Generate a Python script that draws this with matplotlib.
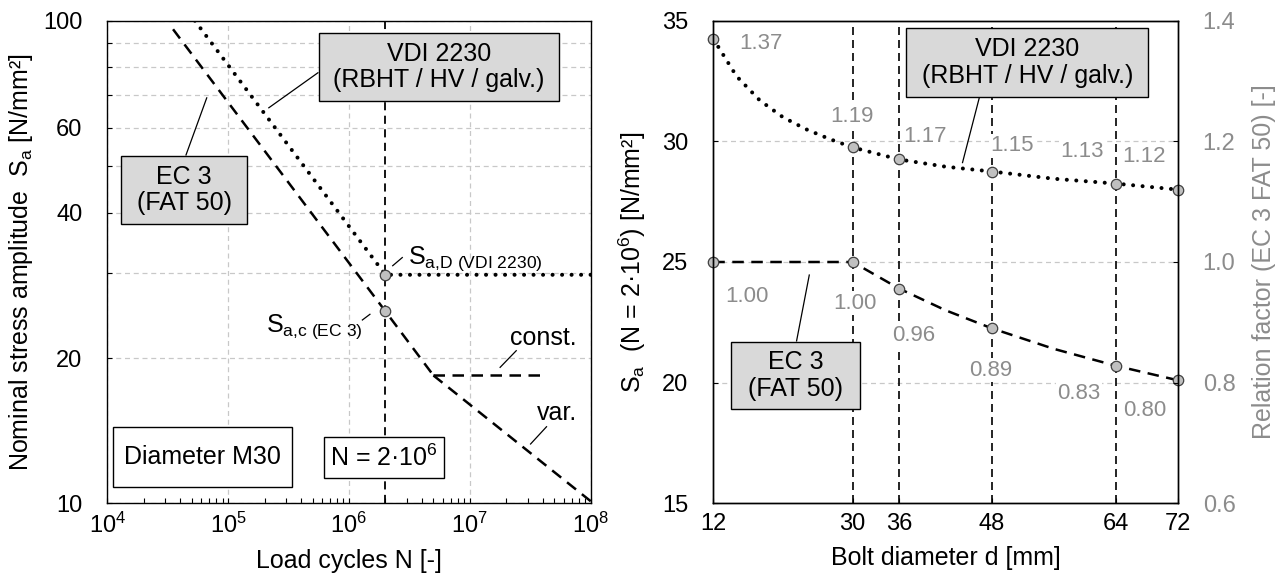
import matplotlib
matplotlib.use("Agg")
import matplotlib.pyplot as plt
from matplotlib.patches import Rectangle
from matplotlib.ticker import NullFormatter, FixedLocator, LogLocator

plt.rcParams['font.family'] = ['Liberation Sans', 'DejaVu Sans']
plt.rcParams['mathtext.fontset'] = 'custom'
plt.rcParams['mathtext.rm'] = 'Liberation Sans'
plt.rcParams['mathtext.it'] = 'Liberation Sans:italic'
plt.rcParams['mathtext.bf'] = 'Liberation Sans:bold'

# ---------------- data: left chart (S-N curves, M30) ----------------
ec3_N = [3.5e4, 2e6, 5e6]
ec3_S = [96.0, 25.0, 18.4]
ec3_const_N = [5e6, 3.9e7]
ec3_const_S = [18.4, 18.4]
ec3_var_N = [5e6, 1e8]
ec3_var_S = [18.4, 10.1]
vdi_N = [5.3e4, 2e6, 1e8]
vdi_S = [100.0, 29.75, 29.75]
ref_N = 2e6
point_N = [2e6, 2e6]
point_S = [29.75, 25.0]
left_yticks = [10, 20, 40, 60, 100]
left_yminor = [30, 50, 70, 80, 90]
left_xticks = [1e4, 1e5, 1e6, 1e7, 1e8]

# ---------------- data: right chart (diameter influence) ----------------
d_points = [12, 30, 36, 48, 64, 72]
vdi_Sa = [34.25, 29.75, 29.25, 28.75, 28.25, 28.0]
ec3_Sa = [25.0, 25.0, 23.9, 22.25, 20.7, 20.1]
vdi_factor = [1.37, 1.19, 1.17, 1.15, 1.13, 1.12]
ec3_factor = [1.00, 1.00, 0.96, 0.89, 0.83, 0.80]
vdi_curve_d = [12, 15, 18, 21, 24, 27, 30, 36, 42, 48, 56, 64, 72]
vdi_curve_S = [34.25, 32.7, 31.7, 31.0, 30.5, 30.1, 29.75, 29.25, 28.95, 28.75, 28.45, 28.25, 28.0]
ec3_curve_d = [12, 30, 36, 42, 48, 56, 64, 72]
ec3_curve_S = [25.0, 25.0, 23.9, 23.0, 22.25, 21.4, 20.7, 20.1]
vline_d = [30, 36, 48, 64]
right_xticks = [12, 30, 36, 48, 64, 72]
right_yticks = [15, 20, 25, 30, 35]
right_grid = [20, 25, 30]
factor_ticks = [0.6, 0.8, 1.0, 1.2, 1.4]

# label positions (data coords of right chart)
vdi_lbl_pos = [(18.2, 34.06), (29.95, 31.02), (39.3, 30.22), (50.6, 29.82), (59.6, 29.57), (67.7, 29.36)]
ec3_lbl_pos = [(16.3, 23.56), (30.3, 23.29), (37.9, 21.97), (47.85, 20.52), (59.2, 19.55), (67.7, 18.86)]

GRAY = '#8c8c8c'
GRID = '#c8c8c8'
BOXFILL = '#d9d9d9'
MFC = '#c0c0c0'
MEC = '#404040'
FS = 18
TFS = 17
NFS = 16

W, H = 1287, 581
fig = plt.figure(figsize=(W / 100, H / 100), dpi=100)
ax1 = fig.add_axes([107.3 / W, 1 - 503.3 / H, 483.4 / W, 482.6 / H])
ax2 = fig.add_axes([713.3 / W, 1 - 503.3 / H, 464.4 / W, 482.6 / H])

for ax in (ax1, ax2):
    for s in ax.spines.values():
        s.set_linewidth(1.0)
        s.set_zorder(10)

# ================= LEFT =================
ax1.set_xscale('log')
ax1.set_yscale('log')
ax1.set_xlim(1e4, 1e8)
ax1.set_ylim(10, 100)
ax1.set_xticks(left_xticks)
ax1.xaxis.set_minor_locator(LogLocator(base=10, subs=[2, 3, 4, 5, 6, 7, 8, 9]))
ax1.xaxis.set_minor_formatter(NullFormatter())
ax1.set_yticks(left_yticks, labels=[str(v) for v in left_yticks])
ax1.yaxis.set_minor_locator(FixedLocator(left_yminor))
ax1.yaxis.set_minor_formatter(NullFormatter())
ax1.tick_params(which='both', direction='in', length=3.8, width=0.8, top=False, right=False)
ax1.tick_params(axis='y', labelsize=TFS, pad=18)
ax1.tick_params(axis='x', labelsize=TFS, pad=7)
ax1.xaxis.grid(True, which='major', color=GRID, lw=0.9, ls=(0, (4, 3)), zorder=0)
ax1.yaxis.grid(True, which='both', color=GRID, lw=0.9, ls=(0, (4, 3)), zorder=0)
ax1.set_axisbelow(True)
ax1.set_xlabel('Load cycles N [-]', fontsize=FS, labelpad=8)
ax1.set_ylabel('Nominal stress amplitude  S$_\\mathrm{a}$ [N/mm²]', fontsize=FS, labelpad=6)

ax1.axvline(ref_N, color='k', lw=1.3, ls=(0, (4.5, 3)), zorder=1)
dash = (0, (4.6, 3))
dot = (0, (0.01, 2.35))
ax1.plot(ec3_N, ec3_S, color='k', lw=1.8, ls=dash, zorder=3)
ax1.plot(ec3_const_N, ec3_const_S, color='k', lw=1.8, ls=dash, zorder=3)
ax1.plot(ec3_var_N, ec3_var_S, color='k', lw=1.8, ls=dash, zorder=3)
ax1.plot(vdi_N, vdi_S, color='k', lw=2.9, ls=dot, dash_capstyle='round', zorder=3)
ax1.plot(point_N, point_S, ls='none', marker='o', ms=7.5, mfc=MFC, mec=MEC, mew=0.9, zorder=6)

# leader lines and annotations (left)
ax1.plot([5.53e5, 2.17e5], [78.0, 66.0], color='k', lw=0.9, zorder=4)
ax1.plot([4.48e4, 6.65e4], [52.7, 69.2], color='k', lw=0.9, zorder=4)
ax1.plot([2.30e6, 2.76e6], [31.07, 32.3], color='k', lw=0.9, zorder=4)
ax1.plot([1.29e6, 1.49e6], [23.98, 24.64], color='k', lw=0.9, zorder=4)
ax1.plot([1.78e7, 2.42e7], [19.13, 20.71], color='k', lw=0.9, zorder=4)
ax1.plot([3.18e7, 4.31e7], [13.27, 14.41], color='k', lw=0.9, zorder=4)
ax1.text(3.08e6, 31.4, r'S$_\mathrm{a{,}D\ (VDI\ 2230)}$', fontsize=FS, ha='left', va='baseline', zorder=7)
ax1.text(1.29e6, 22.68, r'S$_\mathrm{a{,}c\ (EC\ 3)}$', fontsize=FS, ha='right', va='baseline', zorder=7)
ax1.text(4.07e7, 21.28, 'const.', fontsize=FS, ha='center', va='baseline', zorder=7)
ax1.text(5.26e7, 14.88, 'var.', fontsize=FS, ha='center', va='baseline', zorder=7)


def box(ax, x0, y0, x1, y1, txt, fc):
    ax.add_patch(Rectangle((x0, y0), x1 - x0, y1 - y0, transform=ax.transAxes,
                           facecolor=fc, edgecolor='k', lw=1.0, zorder=8))
    ax.text((x0 + x1) / 2, (y0 + y1) / 2, txt, transform=ax.transAxes, fontsize=FS,
            ha='center', va='center', zorder=9, linespacing=1.15)


box(ax1, 0.4375, 0.8343, 0.9336, 0.9739, 'VDI 2230\n(RBHT / HV / galv.)', BOXFILL)
box(ax1, 0.0277, 0.5787, 0.2898, 0.7196, 'EC 3\n(FAT 50)', BOXFILL)
box(ax1, 0.0112, 0.0331, 0.3811, 0.1575, 'Diameter M30', 'white')
box(ax1, 0.4493, 0.0518, 0.6965, 0.1368, 'N = 2·10$^\\mathrm{6}$', 'white')

# ================= RIGHT =================
ax2.set_xlim(12, 72)
ax2.set_ylim(15, 35)
ax2.set_xticks(right_xticks, labels=[str(v) for v in right_xticks])
ax2.set_yticks(right_yticks, labels=[str(v) for v in right_yticks])
ax2.tick_params(direction='in', length=3.8, width=0.8, top=False, right=False)
ax2.tick_params(axis='y', labelsize=TFS, pad=18)
ax2.tick_params(axis='x', labelsize=TFS, pad=7)
for g in right_grid:
    ax2.axhline(g, color=GRID, lw=0.9, ls=(0, (4, 3)), zorder=0.5)
for d in vline_d:
    ax2.axvline(d, color='k', lw=1.2, ls=(0, (4.8, 3)), zorder=1)
ax2.set_xlabel('Bolt diameter d [mm]', fontsize=FS, labelpad=8)
ax2.set_ylabel('S$_\\mathrm{a}$  (N = 2·10$^\\mathrm{6}$) [N/mm²]', fontsize=FS, labelpad=10)

ax2.plot(vdi_curve_d, vdi_curve_S, color='k', lw=2.9, ls=dot, dash_capstyle='round', zorder=3)
ax2.plot(ec3_curve_d, ec3_curve_S, color='k', lw=1.8, ls=dash, zorder=3)
ax2.plot(d_points, vdi_Sa, ls='none', marker='o', ms=7.5, mfc=MFC, mec=MEC, mew=0.9, zorder=6, clip_on=False)
ax2.plot(d_points, ec3_Sa, ls='none', marker='o', ms=7.5, mfc=MFC, mec=MEC, mew=0.9, zorder=6, clip_on=False)

for (x, y), v in zip(vdi_lbl_pos, vdi_factor):
    ax2.text(x, y, f'{v:.2f}', fontsize=NFS, color=GRAY, ha='center', va='center', zorder=2,
             bbox=dict(facecolor='white', edgecolor='none', pad=1.0))
for (x, y), v in zip(ec3_lbl_pos, ec3_factor):
    ax2.text(x, y, f'{v:.2f}', fontsize=NFS, color=GRAY, ha='center', va='center', zorder=2,
             bbox=dict(facecolor='white', edgecolor='none', pad=1.0))

ax2.plot([46.4, 44.2], [31.85, 29.12], color='k', lw=0.9, zorder=4)
ax2.plot([22.76, 24.4], [21.73, 24.46], color='k', lw=0.9, zorder=4)
box(ax2, 0.4156, 0.8425, 0.9371, 0.9843, 'VDI 2230\n(RBHT / HV / galv.)', BOXFILL)
box(ax2, 0.0390, 0.1948, 0.3165, 0.3349, 'EC 3\n(FAT 50)', BOXFILL)

ax3 = ax2.twinx()
ax3.set_ylim(0.6, 1.4)
ax3.set_yticks(factor_ticks, labels=[f'{v:.1f}' for v in factor_ticks])
ax3.tick_params(direction='in', length=3.8, width=0.8, labelsize=TFS, pad=18, labelcolor=GRAY)
ax3.set_ylabel('Relation factor (EC 3 FAT 50) [-]', fontsize=FS, color=GRAY, labelpad=12)
for s in ax3.spines.values():
    s.set_linewidth(1.0)

fig.savefig('out.png', dpi=100)
